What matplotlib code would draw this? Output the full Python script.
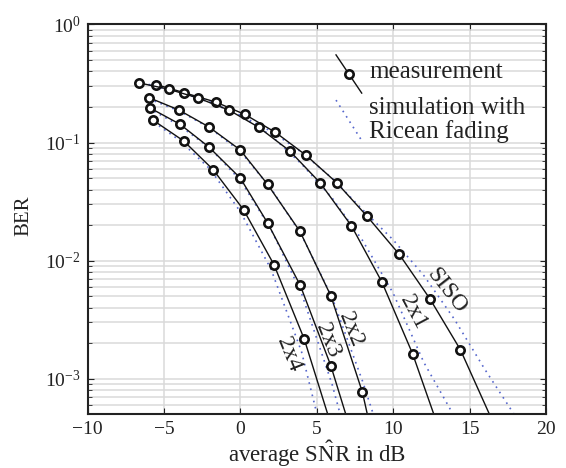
import matplotlib
matplotlib.use('Agg')
import matplotlib.pyplot as plt

plt.rcParams['font.family'] = ['Liberation Serif', 'DejaVu Serif']
plt.rcParams['mathtext.fontset'] = 'custom'
plt.rcParams['mathtext.rm'] = 'Liberation Serif'
plt.rcParams['mathtext.it'] = 'Liberation Serif:italic'
plt.rcParams['text.color'] = '#222222'
plt.rcParams['xtick.color'] = '#222222'
plt.rcParams['ytick.color'] = '#222222'
plt.rcParams['axes.labelcolor'] = '#222222'

# measured BER points (average SNR in dB, BER)
siso_x = [-5.5, -3.7, -1.6, 0.3, 2.3, 4.3, 6.3, 8.3, 10.4, 12.4, 14.4]
siso_y = [0.310, 0.265, 0.220, 0.173, 0.122, 0.078, 0.0458, 0.0237, 0.0113, 0.00476, 0.00176]
x21_x = [-6.66, -4.69, -2.79, -0.73, 1.19, 3.23, 5.21, 7.27, 9.26, 11.27]
x21_y = [0.321, 0.283, 0.239, 0.188, 0.135, 0.085, 0.0458, 0.0197, 0.0066, 0.00163]
x22_x = [-5.98, -4.03, -2.07, -0.01, 1.78, 3.90, 5.92, 7.99]
x22_y = [0.240, 0.189, 0.136, 0.0867, 0.0443, 0.0177, 0.00505, 0.000766]
x23_x = [-5.93, -3.95, -2.07, -0.01, 1.78, 3.92, 5.92]
x23_y = [0.197, 0.143, 0.092, 0.0502, 0.0209, 0.00618, 0.00129]
x24_x = [-5.72, -3.70, -1.78, 0.21, 2.20, 4.18]
x24_y = [0.155, 0.103, 0.059, 0.027, 0.00925, 0.00217]

# where the measurement fit lines leave the plot at the bottom
fit_end_x = [16.3, 12.66, 8.31, 6.90, 5.72]
fit_end_y = 5e-4

# simulation with Ricean fading
sim_siso_x = [-6, -4, -2, 0, 2, 4, 6, 8, 10, 12, 14, 16, 18]
sim_siso_y = [0.31, 0.27, 0.22, 0.17, 0.125, 0.083, 0.05, 0.027, 0.015, 0.0075, 0.0032, 0.0012, 0.00048]
sim_21_x = [-6, -4, -2, 0, 2, 4, 6, 8, 10, 12, 14]
sim_21_y = [0.31, 0.27, 0.22, 0.17, 0.115, 0.066, 0.034, 0.0148, 0.0053, 0.00138, 0.00048]
sim_22_x = [-6, -4, -2, 0, 2, 4, 6, 8, 9]
sim_22_y = [0.235, 0.185, 0.133, 0.084, 0.041, 0.0165, 0.0049, 0.00095, 0.00038]
sim_23_x = [-6, -4, -2, 0, 2, 4, 6, 7]
sim_23_y = [0.195, 0.14, 0.09, 0.048, 0.0185, 0.0053, 0.0009, 0.0003]
sim_24_x = [-6, -4, -2, 0, 2, 4, 5.5]
sim_24_y = [0.16, 0.105, 0.06, 0.026, 0.0085, 0.0017, 0.00028]

labels = ['SISO', '2x1', '2x2', '2x3', '2x4']
label_x = [13.5, 11.3, 7.2, 5.7, 3.15]
label_y = [0.0055, 0.0037, 0.0026, 0.0021, 0.0016]
label_rot = [-52, -62, -68, -68, -68]

meas = [(siso_x, siso_y), (x21_x, x21_y), (x22_x, x22_y), (x23_x, x23_y), (x24_x, x24_y)]
sims = [(sim_siso_x, sim_siso_y), (sim_21_x, sim_21_y), (sim_22_x, sim_22_y),
        (sim_23_x, sim_23_y), (sim_24_x, sim_24_y)]

sim_color = '#5566cc'

fig = plt.figure(figsize=(5.66, 4.68), dpi=100)
ax = fig.add_axes([0.1546, 0.1147, 0.8101, 0.8330])

for (sx, sy) in sims:
    ax.plot(sx, sy, linestyle=(0, (1, 2.8)), color=sim_color, lw=1.2)

for i, (mx, my) in enumerate(meas):
    ax.plot(mx + [fit_end_x[i]], my + [fit_end_y], color='#111111', lw=1.0)
    ax.plot(mx, my, 'o', ms=6, mfc='white', mec='#111111', mew=1.9)

for i in range(len(labels)):
    ax.text(label_x[i], label_y[i], labels[i], rotation=label_rot[i], fontsize=17,
            ha='center', va='center', rotation_mode='anchor')

ax.set_yscale('log')
ax.set_xlim(-10, 20)
ax.set_ylim(5e-4, 1)
ax.set_xticks([-10, -5, 0, 5, 10, 15, 20])
ax.grid(True, which='major', color='#dadada', lw=1.1)
ax.grid(True, which='minor', axis='y', color='#dadada', lw=1.1)
ax.set_axisbelow(True)
ax.tick_params(which='both', direction='in', top=True, right=True, labelsize=14, pad=5)
ax.tick_params(which='major', length=4)
ax.tick_params(which='minor', length=3)
for sp in ax.spines.values():
    sp.set_linewidth(1.5)
    sp.set_color('#222222')

ax.set_xlabel(r'average S$\hat{\mathrm{N}}$R in dB', fontsize=16.5)
ax.xaxis.set_label_coords(0.5, -0.062)
ax.set_ylabel('BER', fontsize=15)
ax.yaxis.set_label_coords(-0.117, 0.51)

# legend drawn by hand (slanted line samples)
ax.plot([0.542, 0.598], [0.922, 0.824], color='#111111', lw=1.0, transform=ax.transAxes)
ax.plot([0.570], [0.873], 'o', ms=6, mfc='white', mec='#111111', mew=1.9,
        transform=ax.transAxes)
ax.plot([0.542, 0.596], [0.806, 0.706], linestyle=(0, (1, 2.8)), color=sim_color, lw=1.2,
        transform=ax.transAxes)
ax.text(0.614, 0.878, 'measurement', fontsize=18, ha='left', va='center',
        transform=ax.transAxes)
ax.text(0.614, 0.754, 'simulation with\nRicean fading', fontsize=18, ha='left',
        va='center', linespacing=1.05, transform=ax.transAxes)

fig.savefig('out.png', dpi=100)
